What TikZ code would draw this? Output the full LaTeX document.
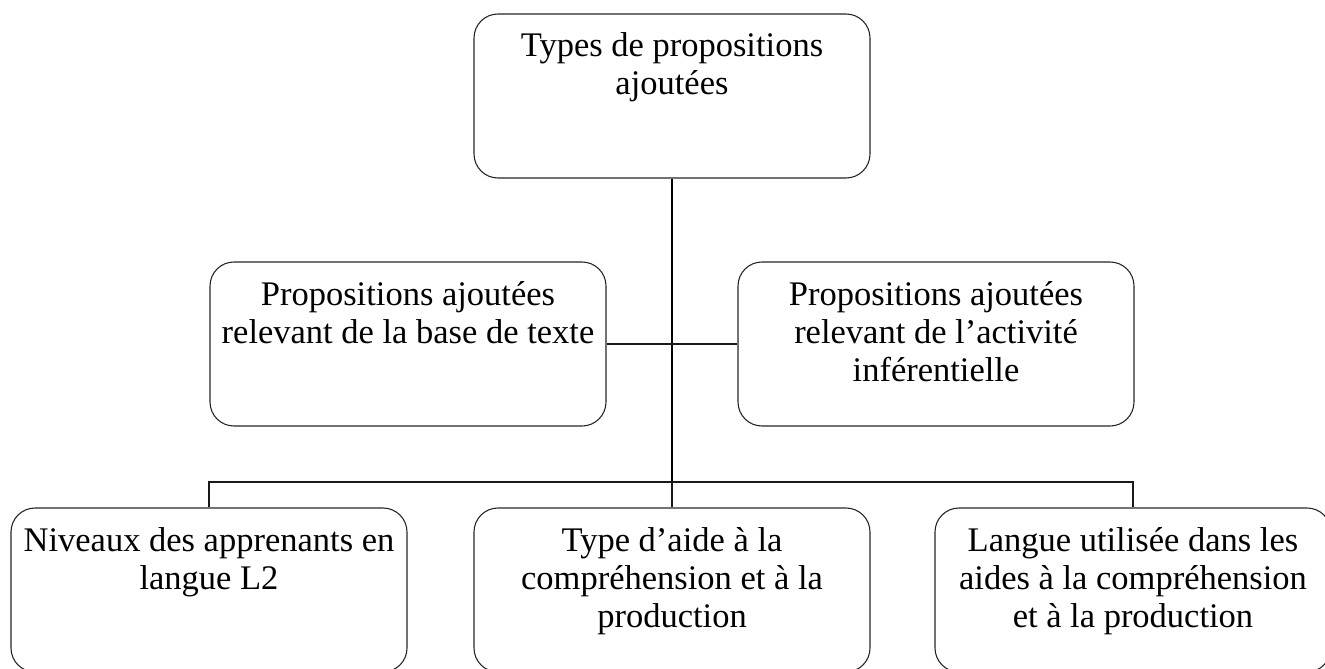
\documentclass[tikz,border=0pt]{standalone}
\usepackage{fontspec}
\setmainfont{Liberation Serif}
\newcommand{\boxlines}[1]{\parbox[c][164pt][t]{396pt}{\centering\rule{0pt}{43pt}#1}}
\begin{document}
\begin{tikzpicture}[
      x=1pt,y=-1pt,
      box/.style={draw=black!85,line width=1.1pt,rounded corners=24pt,
        inner sep=0pt,font=\fontsize{34.5}{38}\selectfont},
      link/.style={draw=black!90,line width=1.3pt},
    ]
    \useasboundingbox (0,0) rectangle (1325,669);
    \node[box] (top) at (672,96) {\boxlines{Types de propositions\\ ajoutées}};
    \node[box] (midL) at (408,344) {\boxlines{Propositions ajoutées\\ relevant de la base de texte}};
    \node[box] (midR) at (936,344) {\boxlines{Propositions ajoutées\\ relevant de l’activité\\ inférentielle}};
    \node[box] (botL) at (209,590) {\boxlines{Niveaux des apprenants en\\ langue L2}};
    \node[box] (botM) at (672,590) {\boxlines{Type d’aide à la\\ compréhension et à la\\ production}};
    \node[box] (botR) at (1133,590) {\boxlines{Langue utilisée dans les\\ aides à la compréhension\\ et à la production}};
    \coordinate (bus) at (672,482);
    \draw[link,line width=1.8pt,draw=black] (top) -- (bus);
    \draw[link] (midL) -- (midR);
    \draw[link] (botL) |- (bus) -| (botR);
    \draw[link] (bus) -- (botM);
  \end{tikzpicture}
\end{document}
